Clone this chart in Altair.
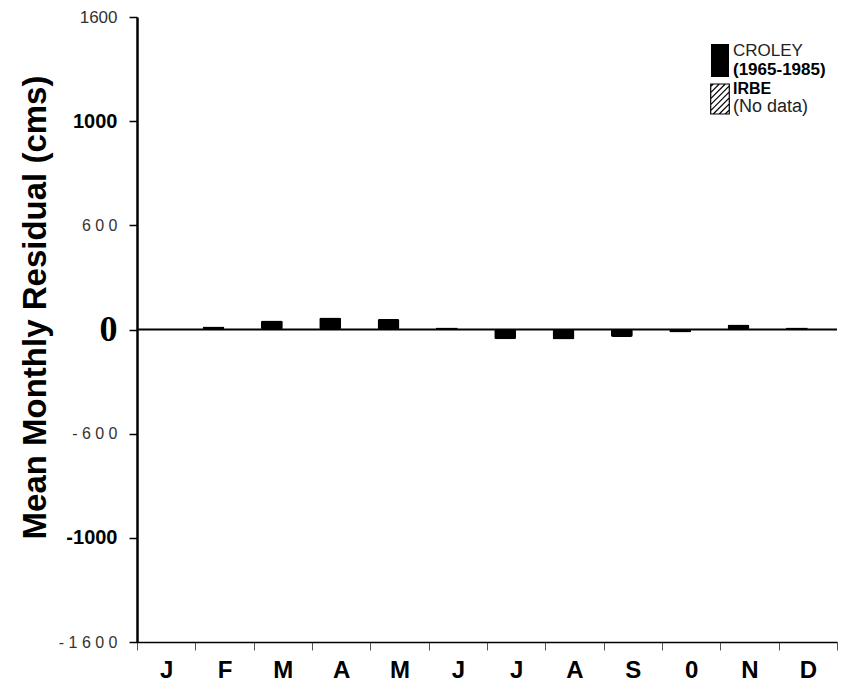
import json
import numpy as np
import pandas as pd
import altair as alt

# ---- data ----
months = ["Jan", "Feb", "Mar", "Apr", "May", "Jun", "Jul", "Aug", "Sep", "Oct", "Nov", "Dec"]
month_labels = ["J", "F", "M", "A", "M", "J", "J", "A", "S", "0", "N", "D"]
croley = [3, 15, 46, 62, 54, 10, -50, -51, -38, -15, 26, 10]
series = ["CROLEY", "IRBE"]
y_tick_labels = ["- 1 6 0 0", "-1000", "- 6 0 0", "0", "6 0 0", "1000", "1600"]  # bottom to top
legend_lines_1 = ["CROLEY", "(1965-1985)"]
legend_lines_2 = ["IRBE", "(No data)"]
y_title = "Mean Monthly Residual (cms)"

ymin, ymax = -1600, 1600
step = (ymax - ymin) / (len(y_tick_labels) - 1)
tick_vals = [round(ymin + i * step, 3) for i in range(len(y_tick_labels))]

df = pd.DataFrame({"month": months, "value": croley, "series": ["CROLEY"] * len(months)})

W, H = 700, 625

x_enc = alt.X(
    "month:N",
    sort=months,
    scale=alt.Scale(domain=months, paddingInner=0, paddingOuter=0),
    axis=alt.Axis(
        title=None,
        labelExpr=f"{json.dumps(month_labels)}[indexof({json.dumps(months)}, datum.value)]",
        labelAngle=0,
        labelFont="Liberation Sans",
        labelFontSize=24,
        labelFontWeight="bold",
        labelColor="black",
        labelPadding=8,
        tickBand="extent",
        tickSize=8,
        tickColor="#555",
        tickWidth=1,
        domainColor="black",
        domainWidth=1.5,
    ),
)

y_scale = alt.Scale(domain=[ymin, ymax], nice=False, zero=False)
y_enc = alt.Y(
    "value:Q",
    scale=y_scale,
    axis=alt.Axis(
        values=tick_vals,
        labelExpr=f"{json.dumps(y_tick_labels)}[round((datum.value - ({ymin})) / {step})]",
        labelFont={"condition": {"test": "datum.value == 0", "value": "Liberation Sans Narrow"}, "value": "Liberation Sans"},
        labelFontSize={"condition": [
            {"test": "datum.value == 0", "value": 36},
            {"test": "abs(abs(datum.value) - 1066.667) < 1", "value": 20},
            {"test": "datum.value == 1600", "value": 17},
        ], "value": 16},
        labelFontWeight={"condition": {"test": "datum.value == 0 || abs(abs(datum.value) - 1066.667) < 1", "value": "bold"}, "value": "normal"},
        labelColor={"condition": {"test": "datum.value == 0 || abs(abs(datum.value) - 1066.667) < 1", "value": "black"}, "value": "#333"},
        labelPadding=12,
        tickSize=8,
        tickColor="black",
        tickWidth=1.5,
        domainColor="black",
        domainWidth=2.5,
        grid=False,
        title=y_title,
        titleFont="Liberation Sans",
        titleFontSize=33,
        titleFontWeight="bold",
        titleColor="black",
        titleAngle=270,
        titleX=-92,
        titleY=290,
        titleAlign="center",
        titleBaseline="alphabetic",
    ),
)

bars = alt.Chart(df).mark_bar(color="black", cornerRadius=2).encode(
    x=x_enc,
    xOffset=alt.XOffset("series:N", scale=alt.Scale(domain=series, paddingInner=0, paddingOuter=0.33)),
    y=y_enc,
)

zero = alt.Chart(pd.DataFrame({"z": [0]})).mark_rule(color="black", strokeWidth=2).encode(
    y=alt.Y("z:Q", scale=y_scale, title=y_title)
)

# ---- custom legend ----
leg_df = pd.DataFrame({"a": [0]})
leg_box = alt.Chart(leg_df).mark_rect(color="black").encode(
    x=alt.value(574), x2=alt.value(592), y=alt.value(27), y2=alt.value(60)
)

# hatched symbol path in unit coordinates
w = 0.62
parts = [f"M{-w},-1H{w}V1H{-w}Z"]
for c in np.arange(-1.45, 1.6, 0.4):
    x0 = max(-w, c - 1)
    x1 = min(w, c + 1)
    if x0 < x1:
        parts.append(f"M{x0:.3f},{c - x0:.3f}L{x1:.3f},{c - x1:.3f}")
hatch_path = "".join(parts)
leg_hatch = alt.Chart(leg_df).mark_point(
    shape=hatch_path, filled=False, stroke="black", strokeWidth=1.2, opacity=1, size=900
).encode(x=alt.value(583), y=alt.value(82))

t1 = alt.Chart(leg_df).mark_text(
    align="left", baseline="alphabetic", font="Liberation Sans", fontSize=17, color="#222", text=legend_lines_1[0]
).encode(x=alt.value(596), y=alt.value(39))
t2 = alt.Chart(leg_df).mark_text(
    align="left", baseline="alphabetic", font="Liberation Sans", fontSize=17, fontWeight="bold", color="black", text=legend_lines_1[1]
).encode(x=alt.value(596), y=alt.value(58))
t3 = alt.Chart(leg_df).mark_text(
    align="left", baseline="alphabetic", font="Liberation Sans", fontSize=16, fontWeight="bold", color="black", text=legend_lines_2[0]
).encode(x=alt.value(596), y=alt.value(77))
t4 = alt.Chart(leg_df).mark_text(
    align="left", baseline="alphabetic", font="Liberation Sans", fontSize=18, color="#222", text=legend_lines_2[1]
).encode(x=alt.value(596), y=alt.value(95))

chart = alt.layer(bars, zero, leg_box, leg_hatch, t1, t2, t3, t4).properties(
    width=W,
    height=H,
    autosize=alt.AutoSizeParams(type="none"),
    padding={"left": 129, "top": 9, "right": 3, "bottom": 45},
    background="white",
).configure_view(stroke=None)

chart.save("out.html", embed_options={"renderer": "svg", "actions": False})
